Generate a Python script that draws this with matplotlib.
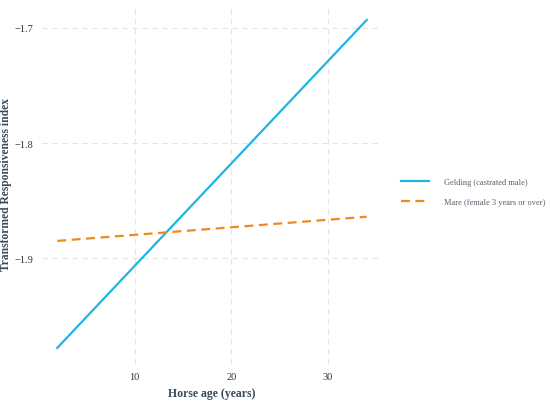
import matplotlib.pyplot as plt

# Data (fitted lines)
age = [2, 34]
gelding = [-1.978, -1.693]
mare = [-1.885, -1.864]

plt.rcParams['font.family'] = ['Liberation Serif', 'DejaVu Serif']
txt = '#3a4a5c'

fig = plt.figure(figsize=(5.5, 4.02), dpi=100)
ax = fig.add_axes([0.076, 0.092, 0.619, 0.896])

ax.plot(age, gelding, color='#1fb4e4', lw=1.6, label='Gelding (castrated male)')
ax.plot(age, mare, color='#f0891c', lw=1.6, ls=(0, (4, 2.5)), label='Mare (female 3 years or over)')

ax.set_xlim(0.4, 35.6)
ax.set_ylim(-1.992, -1.679)
ax.set_xticks([10, 20, 30])
ax.set_yticks([-1.9, -1.8, -1.7])
ax.set_yticklabels(['\u22121.9', '\u22121.8', '\u22121.7'])

ax.grid(True, color='#e4e4e4', ls=(0, (5, 4)), lw=0.8)
for s in ax.spines.values():
    s.set_visible(False)
ax.tick_params(length=0, labelsize=7.5, colors='#333333', pad=6)

ax.set_xlabel('Horse age (years)', fontsize=8.5, color=txt, fontweight='bold')
ax.set_ylabel('Transformed Responsiveness index', fontsize=8.3, color=txt, fontweight='bold')
ax.yaxis.set_label_coords(-0.088, 0.5)

fig.legend(loc='center left', bbox_to_anchor=(0.715, 0.52), frameon=False,
           fontsize=6.0, labelcolor='#555f6a', handlelength=3.4, handletextpad=1.8,
           labelspacing=1.4)

fig.savefig('out.png', dpi=100)
